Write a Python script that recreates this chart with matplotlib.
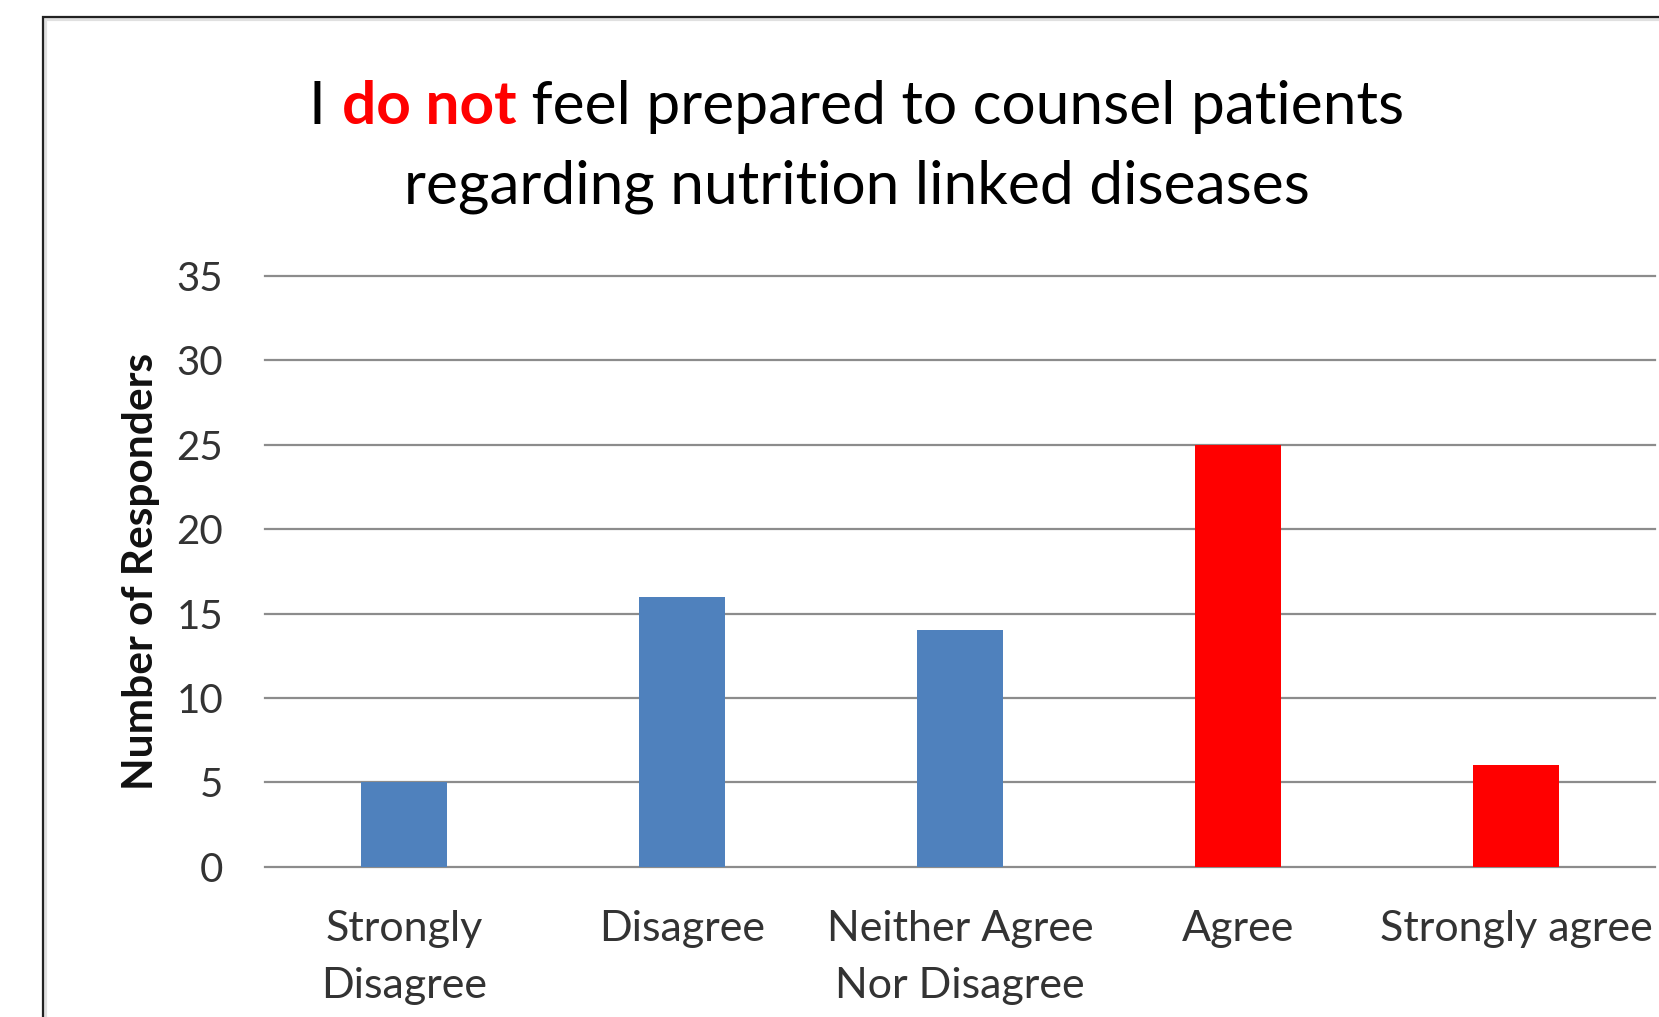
import matplotlib

matplotlib.use("Agg")
import matplotlib.pyplot as plt
from matplotlib.patches import Rectangle

categories = ["Strongly\nDisagree", "Disagree", "Neither Agree\nNor Disagree",
              "Agree", "Strongly agree"]
responders = [5, 16, 14, 25, 6]
bar_colors = ["#4F81BD", "#4F81BD", "#4F81BD", "#FF0000", "#FF0000"]
y_ticks = [0, 5, 10, 15, 20, 25, 30, 35]

title_line1 = [("I ", "black", "normal"), ("do not", "#FF0000", "bold"),
               (" feel prepared to counsel patients", "black", "normal")]
title_line2 = "regarding nutrition linked diseases"

plt.rcParams["font.family"] = ["Lato", "DejaVu Sans"]

W, H, DPI = 1659, 1017, 100
fig = plt.figure(figsize=(W / DPI, H / DPI), dpi=DPI)
fig.patch.set_facecolor("white")

# chart frame (cropped at right and bottom like the source screenshot)
fig.patches.append(Rectangle((45 / W, -0.1), 2.0, 1 - 19 / H + 0.1, transform=fig.transFigure,
                             fill=False, edgecolor="#e0e0e0", linewidth=3, zorder=0))
fig.patches.append(Rectangle((43 / W, -0.1), 2.0, 1 - 17 / H + 0.1, transform=fig.transFigure,
                             fill=False, edgecolor="#222222", linewidth=1.6, zorder=1))

ax = fig.add_axes([265 / W, 1 - 866.7 / H, (1655 - 265) / W, (866.7 - 276) / H])
x = range(len(categories))
ax.bar(x, responders, width=0.31, color=bar_colors, zorder=3)
ax.set_xlim(-0.5, len(categories) - 0.5)
ax.set_ylim(0, 35)
ax.set_yticks(y_ticks)
ax.set_xticks(list(x))
ax.set_xticklabels(categories, linespacing=1.62)
for s in ax.spines.values():
    s.set_visible(False)
ax.yaxis.grid(True, color="#8c8c8c", linewidth=1.6, zorder=1)
for gl in ax.get_ygridlines():
    gl.set_clip_on(False)
ax.set_axisbelow(True)
ax.tick_params(axis="both", length=0, labelcolor="#333333")
ax.tick_params(axis="y", pad=30, labelsize=29)
ax.tick_params(axis="x", pad=31, labelsize=31)
ax.set_ylabel("Number of Responders", fontsize=30.5, fontweight="bold", color="#111111")
ax.yaxis.set_label_coords(-(265 - 160) / (1655 - 265), 0.5)

# title: mixed colour/weight first line, centred
fs_title = 43.5
cx = 857 / W
y1 = 1 - 107 / H
pieces = [fig.text(0, y1, s, color=c, fontweight=w, fontsize=fs_title, va="center")
          for s, c, w in title_line1]
fig.canvas.draw()
r = fig.canvas.get_renderer()
widths = [p.get_window_extent(r).width for p in pieces]
xpos = cx * W - sum(widths) / 2
for p, w_ in zip(pieces, widths):
    p.set_x(xpos / W)
    xpos += w_
fig.text(cx, 1 - 187 / H, title_line2, fontsize=fs_title, ha="center", va="center", color="black")

fig.savefig("out.png", dpi=DPI, facecolor="white")
